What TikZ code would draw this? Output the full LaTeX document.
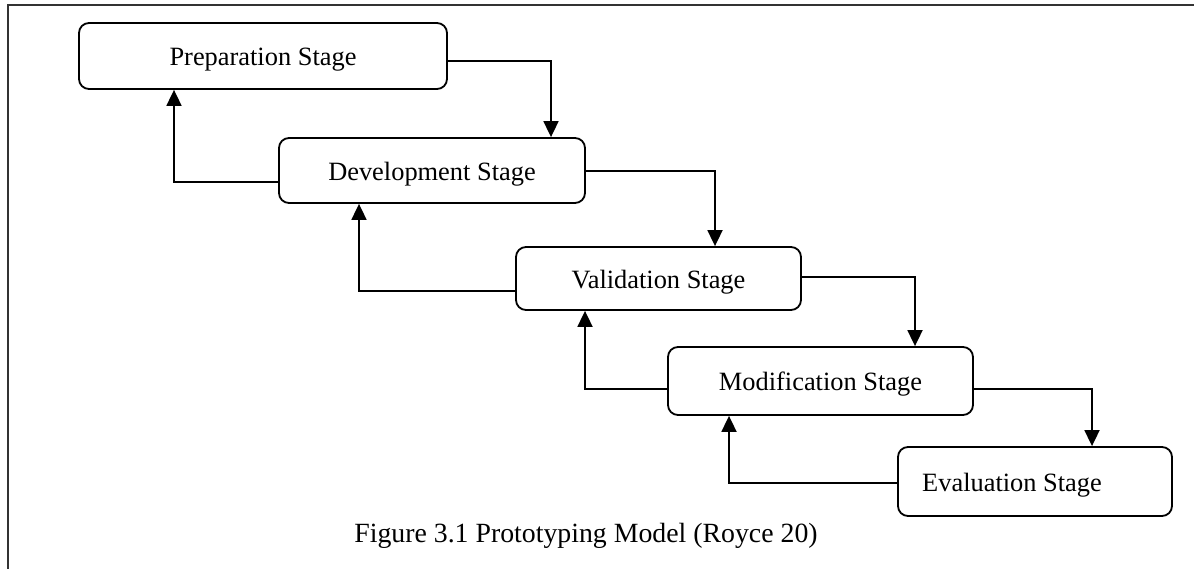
\documentclass[tikz,border=0pt]{standalone}
\usepackage{fontspec}
\setmainfont{Liberation Serif}
\usetikzlibrary{arrows.meta}
\begin{document}
\begin{tikzpicture}[x=1pt,y=-1pt,
  stagebox/.style={draw=black,line width=1.8pt,rounded corners=10pt,inner sep=0pt,
    font=\fontsize{26.4}{30}\selectfont,text height=25pt,text depth=5.3pt},
  arr/.style={line width=1.8pt,-{Triangle[length=16pt,width=15pt]}},
  frameline/.style={draw=black!80,line width=1.5pt}]
\useasboundingbox (0,0) rectangle (1194,569);
\draw[frameline] (8,569) -- (8,5) -- (1194,5);
\node[stagebox,minimum width=368pt,minimum height=66pt] (prep) at (263,56) {Preparation Stage};
\node[stagebox,minimum width=306pt,minimum height=65pt] (dev) at (432,170.5) {Development Stage};
\node[stagebox,minimum width=285pt,minimum height=63pt] (val) at (658.5,278.5) {Validation Stage};
\node[stagebox,minimum width=305pt,minimum height=68pt] (mod) at (820.5,381) {Modification Stage};
\node[stagebox,minimum width=274pt,minimum height=69pt] (eval) at (1035,481.5) {Evaluation Stage\kern46pt\relax};
\node[font=\fontsize{27.8}{32}\selectfont,anchor=base] (cap) at (586,542) {Figure 3.1 Prototyping Model (Royce 20)};
\draw[arr] (prep.east |- 0,61) -| (dev.north -| 551,0);
\draw[arr] (dev.west |- 0,182) -| (prep.south -| 174,0);
\draw[arr] (dev.east |- 0,171) -| (val.north -| 715,0);
\draw[arr] (val.west |- 0,291) -| (dev.south -| 359,0);
\draw[arr] (val.east |- 0,277) -| (mod.north -| 915,0);
\draw[arr] (mod.west |- 0,389) -| (val.south -| 585,0);
\draw[arr] (mod.east |- 0,389) -| (eval.north -| 1092,0);
\draw[arr] (eval.west |- 0,483) -| (mod.south -| 729,0);
\end{tikzpicture}
\end{document}
